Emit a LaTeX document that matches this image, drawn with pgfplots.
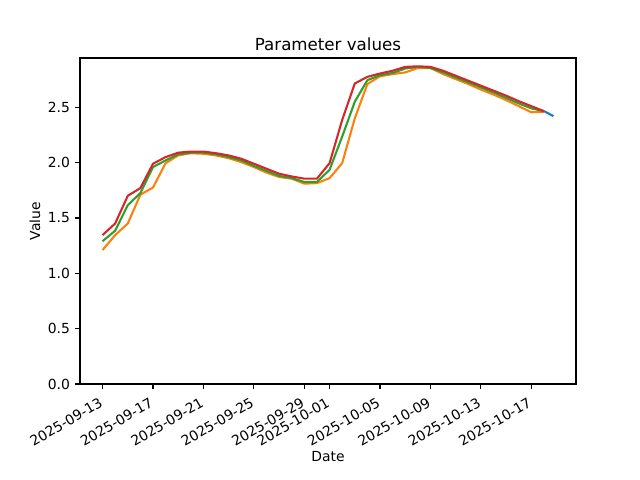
\documentclass[border=0pt]{standalone}
\usepackage{pgfplots}
\pgfplotsset{compat=1.18}
\usepackage{fontspec}
\setmainfont{DejaVu Sans}
\definecolor{c0}{HTML}{1f77b4}
\definecolor{c1}{HTML}{ff7f0e}
\definecolor{c2}{HTML}{2ca02c}
\definecolor{c3}{HTML}{d62728}
\begin{document}
\begin{tikzpicture}
\begin{axis}[
  scale only axis,
  width=357.1pt, height=234.7pt,
  xmin=-1.7875, xmax=37.5375,
  ymin=0, ymax=2.945,
  axis line style={line width=0.8pt},
  tick align=outside,
  major tick length=3.5pt,
  every tick/.style={black, line width=0.8pt},
  xtick={0,4,8,12,16,18,22,26,30,34},
  xticklabels={2025-09-13,2025-09-17,2025-09-21,2025-09-25,2025-09-29,2025-10-01,2025-10-05,2025-10-09,2025-10-13,2025-10-17},
  xtick pos=bottom, ytick pos=left,
  ytick={0,0.5,1,1.5,2,2.5},
  yticklabel style={/pgf/number format/fixed, /pgf/number format/fixed zerofill, /pgf/number format/precision=1, anchor=east, inner sep=0pt, xshift=-3.5pt},
  /pgf/number format/assume math mode=true,
  xticklabel style={rotate=30, anchor=north east, inner sep=0pt, xshift=-5.4pt, yshift=-3.5pt},
  tick label style={font=\fontsize{10}{12}\selectfont},
  title={Parameter values},
  title style={at={(axis description cs:0.5,1)}, anchor=base, inner sep=0pt, yshift=-0.5pt, font=\fontsize{12}{14}\selectfont},
  xlabel={Date},
  xlabel style={at={(axis description cs:0.5,0)}, anchor=north, inner sep=0pt, yshift=-48pt, font=\fontsize{10}{12}\selectfont},
  ylabel={Value},
  ylabel style={at={(axis description cs:0,0.5)}, rotate=0, anchor=center, inner sep=0pt, yshift=32.4pt, font=\fontsize{10}{12}\selectfont},
  every axis plot/.append style={line width=1.5pt, mark=none, line join=round},
]
\addplot[c0] coordinates {(35,2.465) (35.375,2.443) (35.75,2.42)};
\addplot[c1] coordinates {
(0,1.21) (1,1.345) (2,1.45) (3,1.71) (4,1.775) (5,1.995) (6,2.065) (7,2.085) (8,2.08) (9,2.065)
(10,2.04) (11,2.005) (12,1.96) (13,1.91) (14,1.87) (15,1.855) (16,1.81) (17,1.815) (18,1.86) (19,1.995)
(20,2.40) (21,2.71) (22,2.78) (23,2.80) (24,2.815) (25,2.855) (26,2.855) (27,2.80) (28,2.755) (29,2.71)
(30,2.66) (31,2.615) (32,2.565) (33,2.51) (34,2.455) (35,2.46)};
\addplot[c2] coordinates {
(0,1.29) (1,1.385) (2,1.615) (3,1.725) (4,1.96) (5,2.02) (6,2.075) (7,2.09) (8,2.09) (9,2.075)
(10,2.05) (11,2.02) (12,1.97) (13,1.925) (14,1.88) (15,1.86) (16,1.825) (17,1.825) (18,1.935) (19,2.235)
(20,2.55) (21,2.745) (22,2.79) (23,2.81) (24,2.85) (25,2.865) (26,2.855) (27,2.815) (28,2.77) (29,2.725)
(30,2.68) (31,2.635) (32,2.585) (33,2.535) (34,2.49) (35,2.465)};
\addplot[c3] coordinates {
(0,1.345) (1,1.45) (2,1.70) (3,1.77) (4,1.99) (5,2.05) (6,2.09) (7,2.10) (8,2.10) (9,2.085)
(10,2.065) (11,2.035) (12,1.99) (13,1.945) (14,1.90) (15,1.875) (16,1.855) (17,1.855) (18,1.995) (19,2.385)
(20,2.715) (21,2.775) (22,2.805) (23,2.83) (24,2.865) (25,2.87) (26,2.865) (27,2.83) (28,2.785) (29,2.74)
(30,2.695) (31,2.65) (32,2.605) (33,2.555) (34,2.51) (35,2.465)};
\end{axis}
\path[use as bounding box] (-57.6pt,-69.12pt) rectangle (403.2pt,276.48pt);
\end{tikzpicture}
\end{document}
